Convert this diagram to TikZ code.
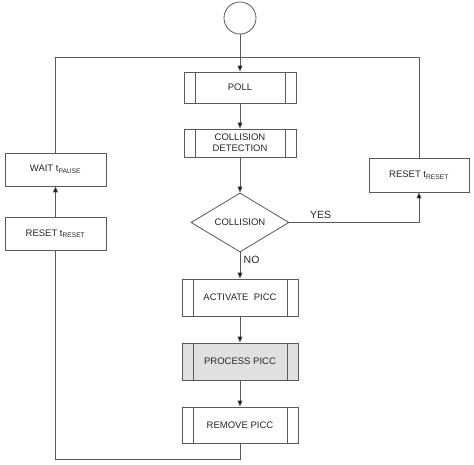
\documentclass[tikz,border=0pt]{standalone}
\usepackage{fontspec}
\setmainfont{Liberation Sans}
\usetikzlibrary{shapes.geometric,arrows.meta}

\newcommand{\tsub}[1]{t\textsubscript{#1}}

\begin{document}
\begin{tikzpicture}[x=1pt, y=1pt,
        font=\fontsize{9.5}{11}\selectfont,
        line/.style={draw=black!65, line width=0.8pt},
        arr/.style={line, -{Triangle[length=6pt, width=5pt, fill=black]}},
        box/.style={line, rectangle, inner sep=0pt, align=center, text=black!85},
        proc/.style={box, path picture={
                \draw[black!65, line width=0.8pt]
                    ([xshift=11pt]path picture bounding box.north west) -- ([xshift=11pt]path picture bounding box.south west)
                    ([xshift=-11pt]path picture bounding box.north east) -- ([xshift=-11pt]path picture bounding box.south east);}},
        decide/.style={line, diamond, aspect=1.66, inner sep=0pt, text=black!85},
        tag/.style={font=\fontsize{10.5}{12}\selectfont, text=black!85}]
    \useasboundingbox (0,0) rectangle (474,465);

    % middle column
    \node[line, circle, minimum size=32pt] (start) at (240,447) {};
    \node[proc, minimum width=112pt, minimum height=31pt] (poll) at (240,377.5) {POLL};
    \node[proc, minimum width=112pt, minimum height=28pt] (coldet) at (240,322) {COLLISION\\DETECTION};
    \node[decide, minimum width=98pt, minimum height=59pt] (coll) at (240,242.5) {COLLISION};
    \node[proc, minimum width=116pt, minimum height=37pt] (activate) at (240,167.5) {ACTIVATE\ \ PICC};
    \node[proc, fill=black!12, minimum width=116pt, minimum height=37pt] (process) at (240,103.5) {PROCESS PICC};
    \node[proc, minimum width=116pt, minimum height=36pt] (remove) at (240,40) {REMOVE PICC};

    % side boxes
    \node[box, minimum width=101pt, minimum height=33pt] (wait) at (55.5,295.5) {WAIT \tsub{PAUSE}};
    \node[box, minimum width=101pt, minimum height=33pt] (resetl) at (55.5,231.5) {RESET \tsub{RESET}};
    \node[box, minimum width=100pt, minimum height=34pt] (resetr) at (419,290) {RESET \tsub{RESET}};

    \coordinate (topl) at (55.5,408);
    \coordinate (topr) at (419,408);
    \coordinate (botl) at (55.5,6);

    \draw[arr] (start) -- (poll);
    \draw[arr] (poll) -- (coldet);
    \draw[arr] (coldet) -- (coll);
    \draw[arr] (coll.south) -- node[tag, right, pos=0.3] {NO} (activate);
    \draw[arr] (activate) -- (process);
    \draw[arr] (process) -- (remove);
    \draw[arr] (coll.east) -| node[tag, above, pos=0.12] {YES} (resetr.south);
    \draw[line] (wait.north) -- (topl) -- (topr) -- (resetr.north);
    \draw[line] (remove.south) |- (botl) -- (resetl.south);
    \draw[arr] (resetl) -- (wait);
\end{tikzpicture}
\end{document}
